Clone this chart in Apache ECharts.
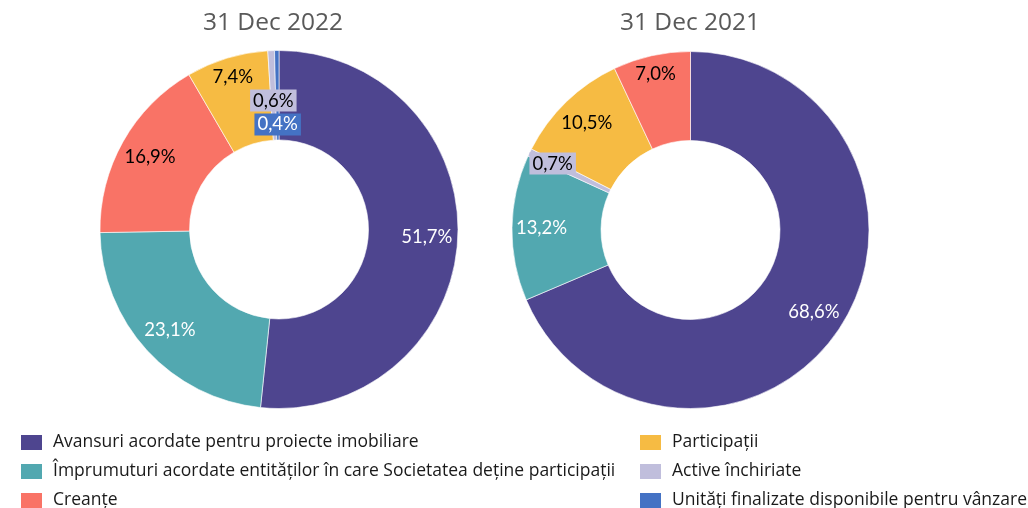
<!DOCTYPE html>
<html>
<head>
<meta charset="utf-8">
<script src="https://cdn.jsdelivr.net/npm/echarts@6/dist/echarts.min.js"></script>
<style>
  html, body { margin: 0; padding: 0; background: #fff; }
  #chart { width: 1028px; height: 508px; }
</style>
</head>
<body>
<div id="chart"></div>
<script>
// categories (legend order)
const categories = [
  'Avansuri acordate pentru proiecte imobiliare',
  'Împrumuturi acordate entităților în care Societatea deține participații',
  'Creanțe',
  'Participații',
  'Active închiriate',
  'Unități finalizate disponibile pentru vânzare'
];
const colors = ['#4E458F', '#52A8B0', '#F97366', '#F6BB43', '#C0BEDC', '#4472C4'];

// 31 Dec 2022, clockwise from top
const names2022 = [categories[0], categories[1], categories[2], categories[3], categories[4], categories[5]];
const values2022 = [51.7, 23.1, 16.9, 7.4, 0.6, 0.4];

// 31 Dec 2021, clockwise from top
const names2021 = [categories[0], categories[1], categories[4], categories[3], categories[2]];
const values2021 = [68.6, 13.2, 0.7, 10.5, 7.0];

// label distance from centre (px), per slice
const labelR2022 = [148, 148, 148, 159, 129, 105];
const labelR2021 = [148, 149, 153, 149, 160];

const darkText = ['#4E458F', '#52A8B0', '#4472C4'];
const boxed = ['#C0BEDC', '#4472C4'];

function buildData(names, values) {
  return names.map(function (n, i) {
    const c = colors[categories.indexOf(n)];
    const isBoxed = boxed.indexOf(c) >= 0;
    return {
      name: n,
      value: values[i],
      itemStyle: { color: c },
      label: {
        color: darkText.indexOf(c) >= 0 ? '#fff' : '#000',
        backgroundColor: isBoxed ? c : 'transparent',
        padding: isBoxed ? [2, 3, 1, 3] : 0
      }
    };
  });
}

function radialLayout(center, radii) {
  return function (p) {
    const r = p.labelRect;
    const lx = r.x + r.width / 2 - center[0];
    const ly = r.y + r.height / 2 - center[1];
    const len = Math.sqrt(lx * lx + ly * ly) || 1;
    const R = radii[p.dataIndex];
    return { dx: lx / len * R - lx, dy: ly / len * R - ly };
  };
}

const center2022 = [279, 229.5];
const center2021 = [690.5, 230];

const pieBase = {
  type: 'pie',
  startAngle: 90,
  clockwise: true,
  avoidLabelOverlap: false,
  silent: true,
  itemStyle: { borderColor: '#fff', borderWidth: 0.6 },
  label: {
    show: true,
    position: 'inside',
    fontFamily: 'Lato',
    fontSize: 18.5,
    formatter: function (p) { return p.value.toFixed(1).replace('.', ',') + '%'; }
  },
  labelLine: { show: false }
};

const chart = echarts.init(document.getElementById('chart'), null, { renderer: 'canvas' });

const legendText = { fontFamily: 'Open Sans', fontSize: 17.5, color: '#1a1a1a', padding: [0, 0, 0, 5] };
// one legend per row so nothing wraps at the bottom edge
const legendCols = [19, 638];
const legendRows = [433, 462, 491];
const legends = categories.map(function (n, i) {
  return {
    data: [n],
    orient: 'horizontal',
    left: legendCols[Math.floor(i / 3)],
    top: legendRows[i % 3],
    padding: 0,
    icon: 'rect',
    itemWidth: 23,
    itemHeight: 17,
    selectedMode: false,
    textStyle: legendText
  };
});

chart.setOption({
  animation: false,
  title: [
    { text: '31 Dec 2022', left: 268, top: 6, textAlign: 'center',
      textStyle: { fontFamily: 'Open Sans', fontSize: 24.5, fontWeight: 'normal', color: '#595959' } },
    { text: '31 Dec 2021', left: 685, top: 6, textAlign: 'center',
      textStyle: { fontFamily: 'Open Sans', fontSize: 24.5, fontWeight: 'normal', color: '#595959' } }
  ],
  legend: legends,
  series: [
    Object.assign({}, pieBase, {
      name: '31 Dec 2022',
      center: center2022,
      radius: [89.5, 179],
      data: buildData(names2022, values2022),
      labelLayout: radialLayout(center2022, labelR2022)
    }),
    Object.assign({}, pieBase, {
      name: '31 Dec 2021',
      center: center2021,
      radius: [89.5, 178.5],
      data: buildData(names2021, values2021),
      labelLayout: radialLayout(center2021, labelR2021)
    })
  ]
});
</script>
</body>
</html>
